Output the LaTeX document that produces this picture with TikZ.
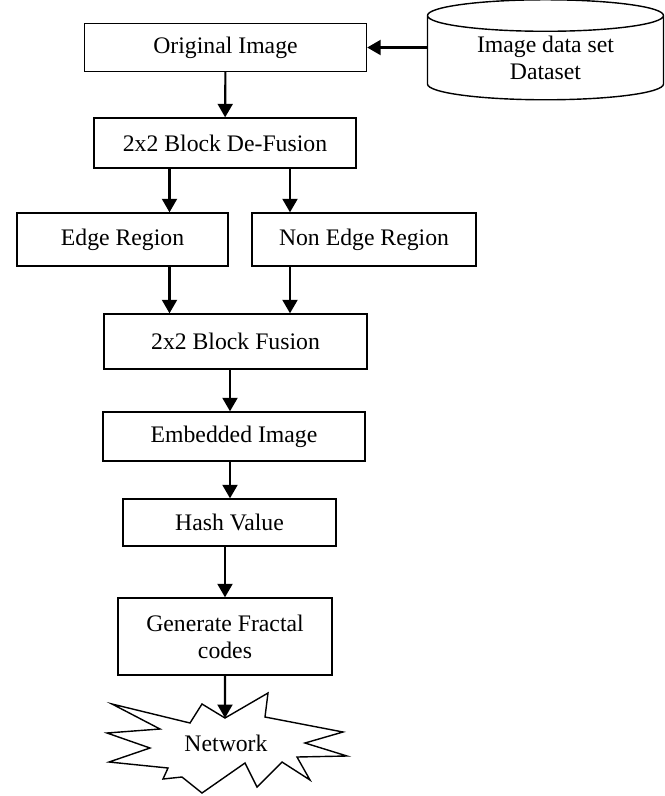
\documentclass[tikz,border=0pt]{standalone}
\usepackage{fontspec}
\setmainfont{Liberation Serif}
\usetikzlibrary{
    arrows.meta,
    positioning,
    calc,
    shapes.geometric
}
\tikzset{
    % --- Process step (plain rectangle) ---
    stepbox/.style = {
        rectangle, draw, line width=0.8pt,
        inner sep=0pt, align=center,
        font=\fontsize{13.5}{15.5}\selectfont
    },
    % --- Data store (cylinder) ---
    store/.style = {
        cylinder, draw, line width=0.8pt,
        shape border rotate=90, aspect=0.23,
        inner sep=0pt, align=center,
        font=\fontsize{13.5}{15.5}\selectfont
    },
    % --- Plain text inside a drawn outline ---
    bare/.style = {
        inner sep=0pt, font=\fontsize{13.5}{15.5}\selectfont
    },
    % --- Flow arrow ---
    flow/.style = {
        -{Triangle[width=0.3cm, length=0.27cm]}, line width=1.2pt
    }
}

\begin{document}
\begin{tikzpicture}

\useasboundingbox (0,0) rectangle (13.3,-15.92);

% ---------------------------------------------------------
% Input stage
% ---------------------------------------------------------
\node[stepbox, minimum width=5.64cm, minimum height=0.96cm] (orig) at (4.51,-0.95) {Original Image};
\node[store, minimum width=4.72cm, minimum height=2.0cm] (data) at (10.91,-1.16) {\\[-6pt]Image data set\\Dataset};
\draw[flow] (orig.east -| data.west) -- (orig.east);

\node[stepbox, minimum width=5.24cm, minimum height=1.0cm] (defuse) at (4.50,-2.86) {2x2 Block De-Fusion};
\draw[flow] (orig) -- (defuse);

% ---------------------------------------------------------
% Region split
% ---------------------------------------------------------
\coordinate (leftcol) at (3.39,0);
\coordinate (rightcol) at (5.80,0);

\node[stepbox, minimum width=4.22cm, minimum height=1.06cm] (edge) at (2.45,-4.79) {Edge Region};
\node[stepbox, minimum width=4.48cm, minimum height=1.06cm] (nonedge) at (7.28,-4.79) {Non Edge Region};

\draw[flow] (defuse.south -| leftcol) -- (edge.north -| leftcol);
\draw[flow] (defuse.south -| rightcol) -- (nonedge.north -| rightcol);

\node[stepbox, minimum width=5.26cm, minimum height=1.1cm] (fuse) at (4.71,-6.83) {2x2 Block Fusion};
\draw[flow] (edge.south -| leftcol) -- (fuse.north -| leftcol);
\draw[flow] (nonedge.south -| rightcol) -- (fuse.north -| rightcol);

% ---------------------------------------------------------
% Embedding and hashing
% ---------------------------------------------------------
\coordinate (spine) at (4.60,0);

\node[stepbox, minimum width=5.24cm, minimum height=0.98cm] (embed) at (4.68,-8.73) {Embedded Image};
\draw[flow] (fuse.south -| spine) -- (embed.north -| spine);

\node[stepbox, minimum width=4.26cm, minimum height=0.94cm] (hash) at (4.59,-10.45) {Hash Value};
\draw[flow] (embed.south -| spine) -- (hash.north -| spine);

\node[stepbox, minimum width=4.28cm, minimum height=1.54cm] (fractal) at (4.50,-12.73) {Generate Fractal\\codes};
\draw[flow] (hash.south -| fractal) -- (fractal.north);

% ---------------------------------------------------------
% Network (hand drawn burst)
% ---------------------------------------------------------
\node[bare] (net) at (4.52,-14.86) {Network};
\draw[line width=0.8pt] ($(net)+(-2.28,0.78)$) -- ++(1.56,-0.38) -- ++(0.24,0.38)
    -- ++(0.46,-0.28) coordinate (nettip) -- ++(0.86,0.50) -- ++(-0.06,-0.48)
    -- ++(1.56,-0.30) -- ++(-0.76,-0.22) -- ++(0.84,-0.26) -- ++(-1.00,-0.02)
    -- ++(0.26,-0.46) -- ++(-0.56,0.36) -- ++(-0.50,-0.50) -- ++(-0.24,0.48)
    -- ++(-0.86,-0.60) -- ++(-0.40,0.32) -- ++(-0.38,-0.04) -- ++(0.10,0.22)
    -- ++(-1.18,0.12) -- ++(0.82,0.28) -- ++(-0.86,0.30) -- ++(1.06,0.08)
    -- cycle;
\draw[flow] (fractal.south) -- (nettip);

\end{tikzpicture}
\end{document}
